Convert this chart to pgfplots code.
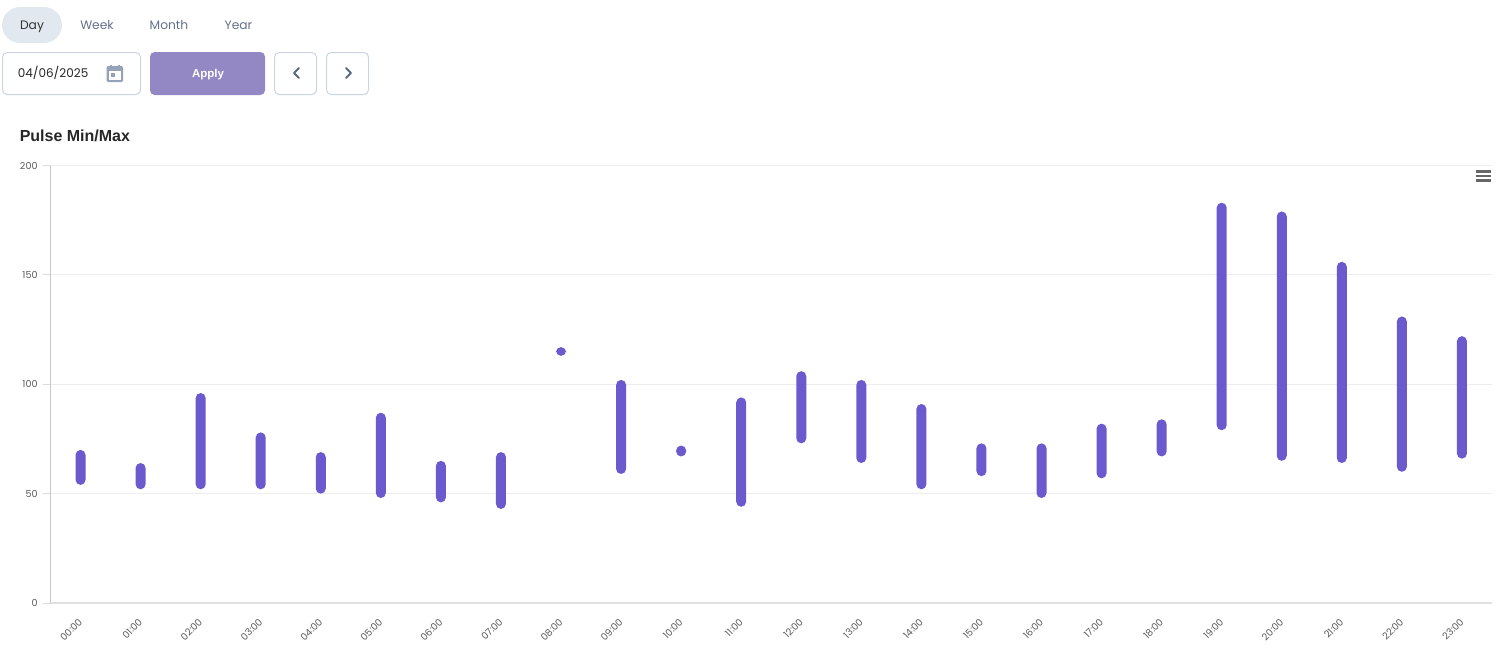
\documentclass[border=0pt]{standalone}
\usepackage{fontspec}
\setmainfont{Poppins}
\newfontfamily\titlefont{Liberation Sans}
\usepackage{pgfplots}
\usepackage{pgfplotstable}
\pgfplotsset{compat=1.18}
\definecolor{bar}{HTML}{6A5ACD}
\definecolor{tabbg}{HTML}{E2E8F0}
\definecolor{tabtx}{HTML}{64708A}
\definecolor{bord}{HTML}{CBD5E1}
\definecolor{btn}{HTML}{9388C4}
\definecolor{icon}{HTML}{94A3B8}
\definecolor{arrow}{HTML}{566A85}
\pgfplotstableread{
x lo hi
0 54 70
1 52 64
2 52 96
3 52 78
4 50 69
5 48 87
6 46 65
7 43 69
8 113 117
9 59 102
10 67 72
11 44 94
12 73 106
13 64 102
14 52 91
15 58 73
16 48 73
17 57 82
18 67 84
19 79 183
20 65 179
21 64 156
22 60 131
23 66 122
}\pulse
\begin{document}
\begin{tikzpicture}[x=0.75pt,y=-0.75pt]
\path[use as bounding box] (0,0) rectangle (1512,658);
% tabs
\fill[tabbg,rounded corners=13.5pt] (2,7) rectangle (62,43);
\node[font=\fontsize{9.2}{12}\selectfont,text=black!80,anchor=base,inner sep=0pt] at (32,29) {Day};
\node[font=\fontsize{9.2}{12}\selectfont,text=tabtx,anchor=base,inner sep=0pt] at (97,29) {Week};
\node[font=\fontsize{9.2}{12}\selectfont,text=tabtx,anchor=base,inner sep=0pt] at (169,29) {Month};
\node[font=\fontsize{9.2}{12}\selectfont,text=tabtx,anchor=base,inner sep=0pt] at (238.5,29) {Year};
% date box
\draw[bord,line width=0.75pt,rounded corners=3.5pt] (2.5,52.5) rectangle (140.5,94.5);
\node[font=\fontsize{9}{12}\selectfont,text=black!85,anchor=base west,inner sep=0pt] at (17.5,77) {04/06/2025};
% calendar icon
\fill[icon,rounded corners=1pt] (106.5,66) rectangle (123,82);
\fill[white] (109,71) rectangle (120.5,79.5);
\fill[icon] (110,64.5) rectangle (112,68);
\fill[icon] (118,64.5) rectangle (120,68);
\fill[icon] (111,73) rectangle (115,77);
% apply
\fill[btn,rounded corners=3.5pt] (150,52) rectangle (265,95);
\node[font=\titlefont\bfseries\fontsize{8.6}{12}\selectfont,text=white,anchor=base,inner sep=0pt] at (208,77) {Apply};
% arrows
\draw[bord,line width=0.75pt,rounded corners=3.5pt] (274.5,52.5) rectangle (316.5,94.5);
\draw[bord,line width=0.75pt,rounded corners=3.5pt] (326.5,52.5) rectangle (368.5,94.5);
\draw[arrow,line width=1.5pt,line cap=round,line join=round] (299,68) -- (294,73) -- (299,78);
\draw[arrow,line width=1.5pt,line cap=round,line join=round] (346,68) -- (351,73) -- (346,78);
% title
\node[font=\titlefont\bfseries\fontsize{12}{14}\selectfont,text=black!85,anchor=base west,inner sep=0pt] at (19.5,141) {Pulse Min/Max};
\begin{axis}[
  at={(37.875pt,-452.25pt)}, anchor=south west,
  scale only axis, width=1081.1pt, height=328.1pt,
  xmin=-0.5, xmax=23.5, ymin=0, ymax=200,
  ybar stacked, bar width=7.5pt,
  axis lines=left,
  axis line style={-},
  x axis line style={draw=black!12,line width=1.5pt},
  y axis line style={draw=black!22,line width=0.75pt},
  xtick={0,...,23},
  xticklabels={00:00,01:00,02:00,03:00,04:00,05:00,06:00,07:00,08:00,09:00,10:00,11:00,12:00,13:00,14:00,15:00,16:00,17:00,18:00,19:00,20:00,21:00,22:00,23:00},
  ytick={0,50,100,150,200},
  ymajorgrids,
  grid style={draw=black!7,line width=0.75pt},
  x tick style={draw=none},
  y tick style={draw=black!14,line width=0.75pt},
  major tick length=6pt,
  ytick align=outside,
  x tick label style={font=\fontsize{7.2}{9}\selectfont,rotate=45,anchor=north east,text=black!65,inner sep=0pt,xshift=-7pt,yshift=-4.2pt},
  y tick label style={font=\fontsize{7.2}{9}\selectfont,text=black!65,inner sep=0pt,xshift=-3.5pt},
  /pgf/number format/assume math mode=true,
  clip=false,
]
\addplot[draw=none,fill=none,forget plot] table[x=x,y=lo]{\pulse};
\addplot[draw=none,fill=bar,rounded corners=3.75pt] table[x=x,y expr=\thisrow{hi}-\thisrow{lo}]{\pulse};
\end{axis}
% export menu icon
\draw[black!60,line width=2pt] (1475.5,171.5) -- (1491,171.5);
\draw[black!60,line width=2pt] (1475.5,176) -- (1491,176);
\draw[black!60,line width=2pt] (1475.5,180.5) -- (1491,180.5);
\end{tikzpicture}
\end{document}
